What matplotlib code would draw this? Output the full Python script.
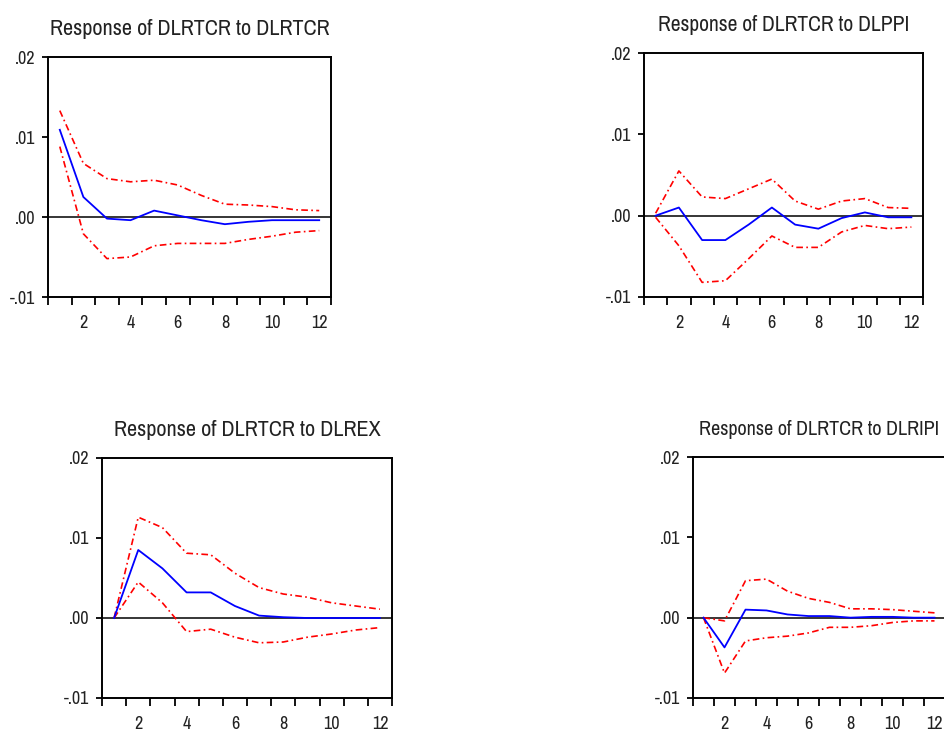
import numpy as np
import matplotlib
matplotlib.use("Agg")
import matplotlib.pyplot as plt
from matplotlib.ticker import FixedLocator, FuncFormatter

# horizonte das respostas
periodos = np.arange(1, 13)

titulos = [
    "Response of DLRTCR to DLRTCR",
    "Response of DLRTCR to DLPPI",
    "Response of DLRTCR to DLREX",
    "Response of DLRTCR to DLRIPI",
]

# resposta ao choque em DLRTCR
resp_rtcr = [0.0109, 0.0025, -0.0002, -0.0004, 0.0008, 0.0002, -0.0004, -0.0009, -0.0006, -0.0004, -0.0004, -0.0004]
sup_rtcr = [0.0133, 0.0067, 0.0048, 0.0044, 0.0046, 0.0040, 0.0027, 0.0016, 0.0015, 0.0013, 0.0009, 0.0008]
inf_rtcr = [0.0088, -0.0021, -0.0052, -0.0050, -0.0036, -0.0033, -0.0033, -0.0033, -0.0028, -0.0024, -0.0019, -0.0017]

# resposta ao choque em DLPPI
resp_ppi = [0.0, 0.0010, -0.0030, -0.0030, -0.0011, 0.0010, -0.0011, -0.0016, -0.0003, 0.0004, -0.0002, -0.0002]
sup_ppi = [0.0003, 0.0055, 0.0023, 0.0021, 0.0033, 0.0045, 0.0018, 0.0008, 0.0018, 0.0021, 0.0010, 0.0009]
inf_ppi = [-0.0002, -0.0037, -0.0082, -0.0080, -0.0053, -0.0025, -0.0039, -0.0039, -0.0020, -0.0012, -0.0016, -0.0014]

# resposta ao choque em DLREX
resp_rex = [0.0, 0.0085, 0.0062, 0.0032, 0.0032, 0.0015, 0.0003, 0.0001, 0.0, 0.0, 0.0, 0.0]
sup_rex = [0.0, 0.0126, 0.0113, 0.0081, 0.0079, 0.0056, 0.0038, 0.0030, 0.0026, 0.0019, 0.0015, 0.0011]
inf_rex = [0.0, 0.0045, 0.0019, -0.0017, -0.0014, -0.0024, -0.0031, -0.0030, -0.0024, -0.0020, -0.0015, -0.0012]

# resposta ao choque em DLRIPI
resp_ripi = [0.0, -0.0037, 0.0010, 0.0009, 0.0004, 0.0002, 0.0002, 0.0, 0.0001, 0.0001, 0.0, 0.0]
sup_ripi = [0.0, -0.0004, 0.0046, 0.0048, 0.0033, 0.0024, 0.0019, 0.0011, 0.0011, 0.0010, 0.0008, 0.0006]
inf_ripi = [0.0, -0.0069, -0.0029, -0.0025, -0.0023, -0.0019, -0.0012, -0.0012, -0.0010, -0.0006, -0.0004, -0.0004]

respostas = [resp_rtcr, resp_ppi, resp_rex, resp_ripi]
superiores = [sup_rtcr, sup_ppi, sup_rex, sup_ripi]
inferiores = [inf_rtcr, inf_ppi, inf_rex, inf_ripi]

yticks = [-0.01, 0.0, 0.01, 0.02]
xlabels = [2, 4, 6, 8, 10, 12]

# fonte estreita, com reserva caso nao exista
fonte = ["Archivo Narrow", "Liberation Sans", "DejaVu Sans"]
cor_texto = "#222222"
tam_titulo = [16, 15.5, 16, 14.5]

W, H = 944, 731
# caixas dos paineis em pixels: esquerda, topo, direita, base
caixas = [
    (48, 57, 331, 297),
    (644, 53, 923, 297),
    (102, 458, 392, 698),
    (693, 457, 945, 698),
]


def fmt_y(v, pos):
    s = "%.2f" % v
    return s.replace("0.", ".", 1) if not s.startswith("-0.") else "-" + s[2:]


fig = plt.figure(figsize=(W / 100, H / 100), dpi=100)

for i in range(4):
    e, t, d, b = caixas[i]
    ax = fig.add_axes([e / W, 1 - b / H, (d - e) / W, (b - t) / H])

    ax.axhline(0, color="black", lw=1.1, zorder=1)
    ax.plot(periodos, superiores[i], color="#ff0000", lw=1.2, linestyle=(0, (4, 2, 1, 2)), zorder=2)
    ax.plot(periodos, inferiores[i], color="#ff0000", lw=1.2, linestyle=(0, (4, 2, 1, 2)), zorder=2)
    ax.plot(periodos, respostas[i], color="#0000ff", lw=1.3, zorder=3)

    ax.set_xlim(0.5, 12.5)
    ax.set_ylim(-0.01, 0.02)

    # rotulos nas categorias pares, marcas entre as categorias
    ax.xaxis.set_major_locator(FixedLocator(xlabels))
    ax.xaxis.set_minor_locator(FixedLocator(np.arange(0.5, 13, 1.0)))
    ax.tick_params(axis="x", which="major", length=0, pad=13, labelsize=13, labelcolor=cor_texto)
    ax.tick_params(axis="x", which="minor", length=6, width=1.3, direction="out", color="black")

    ax.yaxis.set_major_locator(FixedLocator(yticks))
    ax.yaxis.set_major_formatter(FuncFormatter(fmt_y))
    ax.tick_params(axis="y", which="major", length=4, width=1.3, direction="out", pad=5,
                   labelsize=13, labelcolor=cor_texto)

    for lbl in ax.get_xticklabels() + ax.get_yticklabels():
        lbl.set_family(fonte)

    for sp in ax.spines.values():
        sp.set_linewidth(1.4)
        sp.set_color("black")

    ax.set_title(titulos[i], family=fonte, fontsize=tam_titulo[i], color=cor_texto, pad=16)

plt.savefig("out.png", dpi=100)
